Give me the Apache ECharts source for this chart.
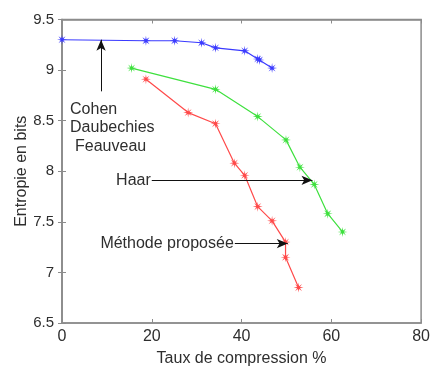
<!DOCTYPE html>
<html>
<head>
<meta charset="utf-8">
<script src="https://cdn.jsdelivr.net/npm/echarts@6/dist/echarts.min.js"></script>
<style>html,body{margin:0;padding:0;background:#fff}#c{width:433px;height:372px}</style>
</head>
<body>
<div id="c"></div>
<script>
// ---- data ----
var cdfX = [0, 18.7, 25.1, 31.1, 34.2, 40.7, 43.6, 44.0, 46.8];
var cdfY = [9.30, 9.29, 9.29, 9.27, 9.22, 9.19, 9.11, 9.10, 9.02];
var haarX = [15.5, 34.2, 43.6, 49.9, 53.0, 56.2, 59.2, 62.5];
var haarY = [9.02, 8.81, 8.54, 8.31, 8.04, 7.87, 7.58, 7.40];
var propX = [18.7, 28.1, 34.2, 38.4, 40.7, 43.6, 46.8, 49.8, 49.8, 52.7];
var propY = [8.91, 8.58, 8.47, 8.08, 7.96, 7.65, 7.51, 7.30, 7.15, 6.85];
var xTicks = [0, 20, 40, 60, 80];
var yTicks = [6.5, 7, 7.5, 8, 8.5, 9, 9.5];
var xTitle = 'Taux de compression %';
var yTitle = 'Entropie en bits';
// annotations: [label lines, arrow start, arrow end]
var annCDF = {lines: ['Cohen', 'Daubechies', 'Feauveau'], from: [8.7, 8.79], to: [8.7, 9.30]};
var annHaar = {text: 'Haar', from: [20.0, 7.91], to: [55.8, 7.91]};
var annProp = {text: 'Méthode proposée', from: [38.5, 7.285], to: [50.3, 7.285]};

function pairs(xs, ys) { return xs.map(function (x, i) { return [x, ys[i]]; }); }

// asterisk-like star symbol
var pts = [];
for (var k = 0; k < 16; k++) {
  var a = Math.PI * k / 8 - Math.PI / 2;
  var r = (k % 2 === 0) ? 1 : 0.3;
  pts.push((r * Math.cos(a)).toFixed(3) + ',' + (r * Math.sin(a)).toFixed(3));
}
var starPath = 'path://M' + pts.join('L') + 'Z';

var axisCol = '#8c8c8c';
var txtCol = '#2e2e2e';
var font = 'Liberation Sans, Arial, Helvetica, sans-serif';

function lineSeries(name, data, col) {
  return {
    name: name, type: 'line', data: data, xAxisIndex: 0, yAxisIndex: 0,
    symbol: starPath, symbolSize: 10, showAllSymbol: true,
    lineStyle: {color: col, width: 1.2},
    itemStyle: {color: col},
    emphasis: {disabled: true}, animation: false, z: 3
  };
}

var chart = echarts.init(document.getElementById('c'), null, {renderer: 'canvas'});
var arrowLine = {type: 'solid', color: '#111', width: 1};
chart.setOption({
  animation: false,
  backgroundColor: '#fff',
  grid: {left: 62, right: 11, top: 19.5, bottom: 45, show: true, borderColor: axisCol, borderWidth: 1.5},
  xAxis: [{
    type: 'value', min: 0, max: 80, interval: 20, position: 'bottom',
    name: xTitle, nameLocation: 'middle', nameGap: 28, nameMoveOverlap: false,
    nameTextStyle: {color: txtCol, fontSize: 16, fontFamily: font},
    axisLine: {show: true, lineStyle: {color: axisCol, width: 1.5}},
    axisTick: {show: true, inside: true, length: 4, lineStyle: {color: axisCol}},
    axisLabel: {color: txtCol, fontSize: 16, fontFamily: font, margin: 6,
      formatter: function (v) { return xTicks.indexOf(v) >= 0 ? String(v) : ''; }},
    splitLine: {show: false}
  }, {
    type: 'value', min: 0, max: 80, interval: 20, position: 'top',
    axisLine: {show: true, lineStyle: {color: axisCol, width: 1.5}},
    axisTick: {show: true, inside: true, length: 4, lineStyle: {color: axisCol}},
    axisLabel: {show: false}, splitLine: {show: false}
  }],
  yAxis: [{
    type: 'value', min: 6.5, max: 9.5, interval: 0.5, position: 'left',
    name: yTitle, nameLocation: 'middle', nameGap: 32, nameMoveOverlap: false,
    nameTextStyle: {color: txtCol, fontSize: 16, fontFamily: font},
    axisLine: {show: true, lineStyle: {color: axisCol, width: 1.5}},
    axisTick: {show: true, inside: true, length: 4, lineStyle: {color: axisCol}},
    axisLabel: {color: txtCol, fontSize: 15, fontFamily: font, margin: 8,
      formatter: function (v) { return yTicks.indexOf(v) >= 0 ? String(v) : ''; }},
    splitLine: {show: false}
  }, {
    type: 'value', min: 6.5, max: 9.5, interval: 0.5, position: 'right',
    axisLine: {show: true, lineStyle: {color: axisCol, width: 1.5}},
    axisTick: {show: true, inside: true, length: 4, lineStyle: {color: axisCol}},
    axisLabel: {show: false}, splitLine: {show: false}
  }],
  series: [
    lineSeries('Cohen Daubechies Feauveau', pairs(cdfX, cdfY), '#3a3aff'),
    lineSeries('Haar', pairs(haarX, haarY), '#3ee03e'),
    lineSeries('Méthode proposée', pairs(propX, propY), '#ff4a4a'),
    {
      type: 'line', data: [], xAxisIndex: 0, yAxisIndex: 0, silent: true, z: 4,
      markLine: {
        silent: true, animation: false,
        symbol: ['none', 'arrow'], symbolSize: [7, 11],
        lineStyle: arrowLine, label: {show: false},
        emphasis: {disabled: true},
        data: [
          [{coord: annCDF.from}, {coord: annCDF.to}],
          [{coord: annHaar.from}, {coord: annHaar.to}],
          [{coord: annProp.from}, {coord: annProp.to}]
        ]
      }
    }
  ]
});

// text annotations positioned through the axes
var g = [];
var p = chart.convertToPixel({xAxisIndex: 0, yAxisIndex: 0}, annCDF.from);
var xs = [p[0] - 31, p[0] - 31, p[0] - 26];
annCDF.lines.forEach(function (t, i) {
  g.push({type: 'text', left: xs[i], top: p[1] + 10 + i * 18.5,
    style: {text: t, fill: txtCol, font: '16px ' + font}});
});
var ph = chart.convertToPixel({xAxisIndex: 0, yAxisIndex: 0}, annHaar.from);
g.push({type: 'text', x: ph[0] - 1, y: ph[1],
  style: {text: annHaar.text, fill: txtCol, font: '16px ' + font, textAlign: 'right', textVerticalAlign: 'middle'}});
var pp = chart.convertToPixel({xAxisIndex: 0, yAxisIndex: 0}, annProp.from);
g.push({type: 'text', x: pp[0] - 1, y: pp[1],
  style: {text: annProp.text, fill: txtCol, font: '16px ' + font, textAlign: 'right', textVerticalAlign: 'middle'}});
chart.setOption({graphic: g});
</script>
</body>
</html>
